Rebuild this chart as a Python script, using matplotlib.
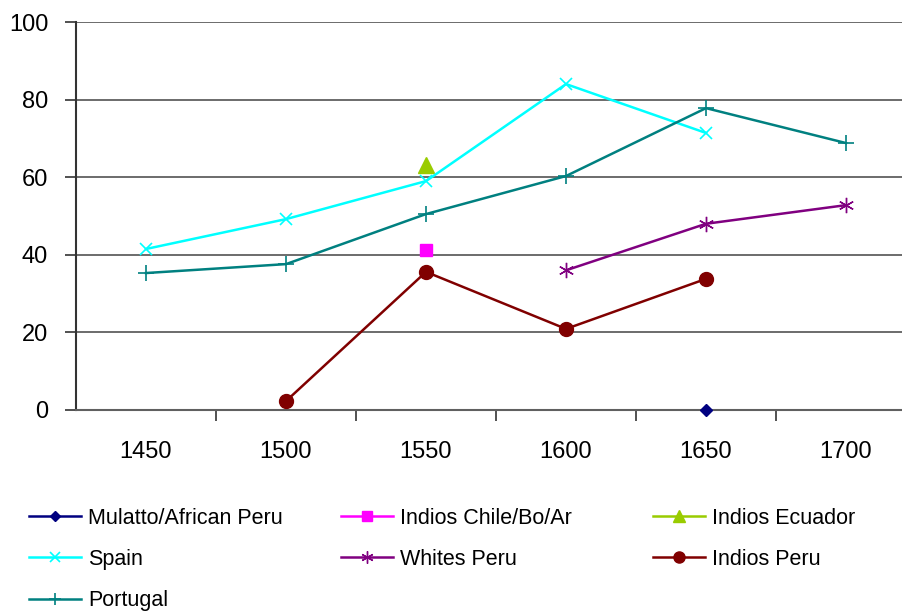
import numpy as np
import matplotlib
matplotlib.use("Agg")
import matplotlib.pyplot as plt

plt.rcParams['font.family'] = ['Liberation Sans', 'DejaVu Sans']

nan = np.nan

# categories and series values
years          = ['1450', '1500', '1550', '1600', '1650', '1700']
mulatto        = [nan, nan, nan, nan, 0.0, nan]
indios_chile   = [nan, nan, 41.2, nan, nan, nan]
indios_ecuador = [nan, nan, 63.1, nan, nan, nan]
spain          = [41.5, 49.2, 59.0, 84.0, 71.4, nan]
whites_peru    = [nan, nan, nan, 36.0, 48.0, 52.8]
indios_peru    = [nan, 2.3, 35.6, 20.9, 33.8, nan]
portugal       = [35.3, 37.6, 50.5, 60.3, 77.8, 68.8]
y_ticks        = [0, 20, 40, 60, 80, 100]

W, H = 903, 615
fig = plt.figure(figsize=(W / 100, H / 100), dpi=100)
ax = fig.add_axes([76 / W, 205 / H, 840 / W, 388 / H])

x = np.arange(len(years))

series = [
    ("Mulatto/African Peru", mulatto, "#000080", "D", 6, 1.0),
    ("Indios Chile/Bo/Ar", indios_chile, "#FF00FF", "s", 9, 1.0),
    ("Indios Ecuador", indios_ecuador, "#99CC00", "^", 11, 1.0),
    ("Spain", spain, "#00FFFF", "x", 9, 1.2),
    ("Whites Peru", whites_peru, "#800080", (6, 2, 0), 11, 1.0),
    ("Indios Peru", indios_peru, "#800000", "o", 10, 1.0),
    ("Portugal", portugal, "#008080", "+", 11, 1.2),
]

handles = {}
for name, vals, col, mk, ms, mew in series:
    ln, = ax.plot(x, vals, color=col, lw=1.8, marker=mk, markersize=ms,
                  markeredgewidth=mew, markerfacecolor=col,
                  markeredgecolor=col, label=name, zorder=3, clip_on=False)
    handles[name] = ln

ax.set_xlim(-0.5, len(years) - 0.5)
ax.set_ylim(0, 100)

# y axis
ax.set_yticks(y_ticks)
ax.set_yticklabels([str(v) for v in y_ticks])
ax.tick_params(axis='y', direction='out', length=8, width=1.2, color='#333333',
               labelsize=17, pad=12)
ax.yaxis.grid(True, color='#606060', lw=1.3)
ax.set_axisbelow(True)

# x axis: ticks between categories, labels at centers
ax.set_xticks(np.arange(0.5, len(years) - 0.5, 1.0))
ax.set_xticklabels([])
ax.set_xticks(x, minor=True)
ax.set_xticklabels(years, minor=True)
ax.tick_params(axis='x', which='major', direction='out', length=8, width=1.2,
               color='#333333')
ax.tick_params(axis='x', which='minor', length=0, labelsize=17, pad=22)

for s in ['top', 'right']:
    ax.spines[s].set_visible(False)
ax.spines['left'].set_color('#333333')
ax.spines['left'].set_linewidth(1.5)
ax.spines['bottom'].set_color('#606060')
ax.spines['bottom'].set_linewidth(1.5)

# legend in three columns, row-major like the reference
columns = [
    (["Mulatto/African Peru", "Spain", "Portugal"], 29),
    (["Indios Chile/Bo/Ar", "Whites Peru"], 341),
    (["Indios Ecuador", "Indios Peru"], 653),
]
for names, xpos in columns:
    fig.legend([handles[n] for n in names], names, loc='upper left',
               bbox_to_anchor=(xpos / W, 1 - 508 / H), frameon=False,
               fontsize=15.5, handlelength=2.42, handletextpad=0.33,
               labelspacing=0.93, borderpad=0, borderaxespad=0,
               numpoints=1, markerscale=0.8)

fig.savefig("out.png", dpi=100)
